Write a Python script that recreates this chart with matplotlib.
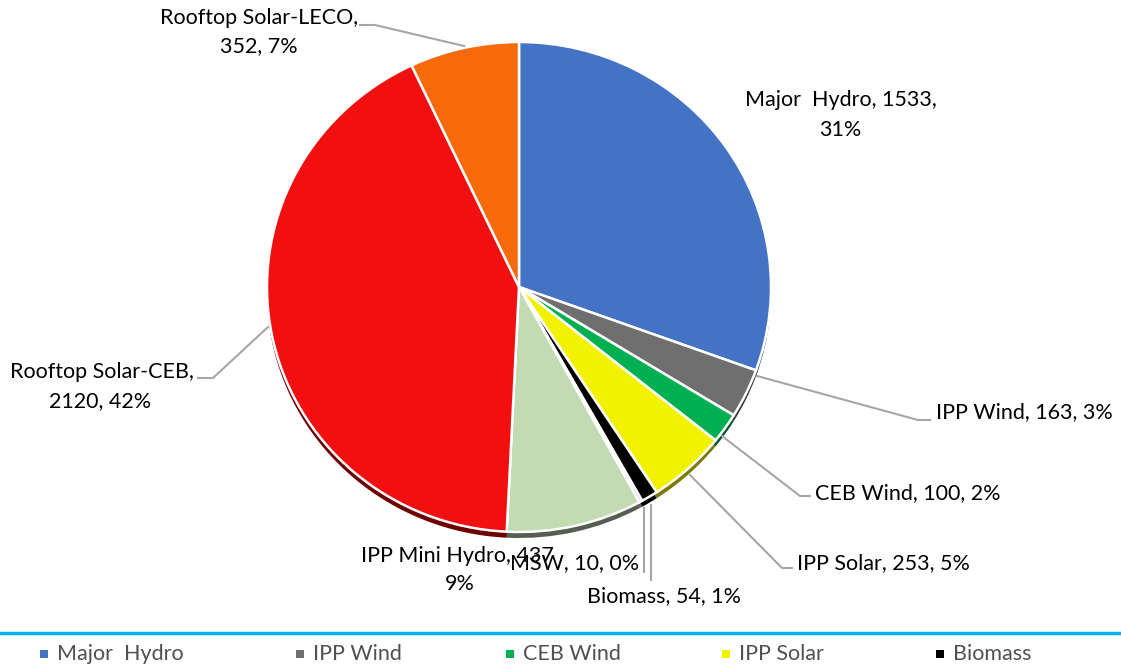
import matplotlib
matplotlib.use("Agg")
import matplotlib.pyplot as plt
import numpy as np

categories = ["Major  Hydro", "IPP Wind", "CEB Wind", "IPP Solar", "Biomass", "MSW",
              "IPP Mini Hydro", "Rooftop Solar-CEB", "Rooftop Solar-LECO"]
values = [1533, 163, 100, 253, 54, 10, 437, 2120, 352]
percents = ["31%", "3%", "2%", "5%", "1%", "0%", "9%", "42%", "7%"]
colors = ["#4472C4", "#706F70", "#00B050", "#F2F200", "#000000", "#D9A0E0",
          "#C2DBB3", "#F20F10", "#F76A0C"]
shadow_colors = ["#22395F", "#383838", "#005828", "#7A7A00", "#000000", "#6C5070",
                 "#555E50", "#700000", "#7B3506"]
legend_items = categories[:5]

plt.rcParams['font.family'] = ['Lato', 'DejaVu Sans']

W, H = 1121, 667
RX, RY = 252, 245
k = RX / RY
fig = plt.figure(figsize=(W / 100, H / 100), dpi=100)
ax = fig.add_axes([0, 0, 1, 1])

def Y(y):
    return (H - y) * k

cx, cy = 519, Y(287)
ax.pie(values, colors=shadow_colors, startangle=90, counterclock=False,
       center=(cx, cy - 6 * k), radius=RX, wedgeprops=dict(linewidth=0))
ax.pie(values, colors=colors, startangle=90, counterclock=False,
       center=(cx, cy), radius=RX, wedgeprops=dict(edgecolor="white", linewidth=1.8))
ax.set_xlim(0, W)
ax.set_ylim(0, H * k)
ax.set_aspect("auto")
ax.axis("off")

fs = 15.5
tc = "#000000"

def t(x, y, s, ha="left"):
    ax.text(x, Y(y), s, fontsize=fs, color=tc, ha=ha, va="center")

def line(pts):
    xs = [p[0] for p in pts]
    ys = [Y(p[1]) for p in pts]
    ax.plot(xs, ys, color="#A6A6A6", lw=1.5, zorder=1)

lab = [f"{c}, {v}, {p}" for c, v, p in zip(categories, values, percents)]

# Major Hydro
t(841, 100, f"{categories[0]}, {values[0]},", ha="center")
t(840, 130, percents[0], ha="center")
# IPP Wind
line([(757, 376), (918, 420), (930, 420)])
t(936, 412, lab[1])
# CEB Wind
line([(722, 436), (800, 496), (810, 496)])
t(815, 493, lab[2])
# IPP Solar
line([(690, 475), (782, 568), (792, 568)])
t(797, 563, lab[3])
# Biomass
line([(651, 505), (651, 580)])
t(587, 596, lab[4])
# MSW
line([(644, 508), (644, 572)])
t(510, 563, lab[5])
# IPP Mini Hydro
t(457, 556, f"{categories[6]}, {values[6]}", ha="center")
t(460, 584, percents[6], ha="center")
# Rooftop Solar-CEB
line([(198, 378), (213, 378), (268, 327)])
t(102, 372, f"{categories[7]},", ha="center")
t(100, 401, f"{values[7]}, {percents[7]}", ha="center")
# Rooftop Solar-LECO
line([(360, 25), (375, 25), (464, 46)])
t(259, 18, f"{categories[8]},", ha="center")
t(259, 46, f"{values[8]}, {percents[8]}", ha="center")

# legend separator line
ax.plot([0, W], [Y(633), Y(633)], color="#00B0F0", lw=2.5)
lx = [44, 300, 510, 726, 940]
for x, name, col in zip(lx, legend_items, colors[:5]):
    ax.scatter([x], [Y(654)], marker="s", s=32, color=col, linewidths=0)
    ax.text(x + 13, Y(654), name, fontsize=15.5, color="#505050", ha="left", va="center")

fig.savefig("out.png", dpi=100, facecolor="white")
